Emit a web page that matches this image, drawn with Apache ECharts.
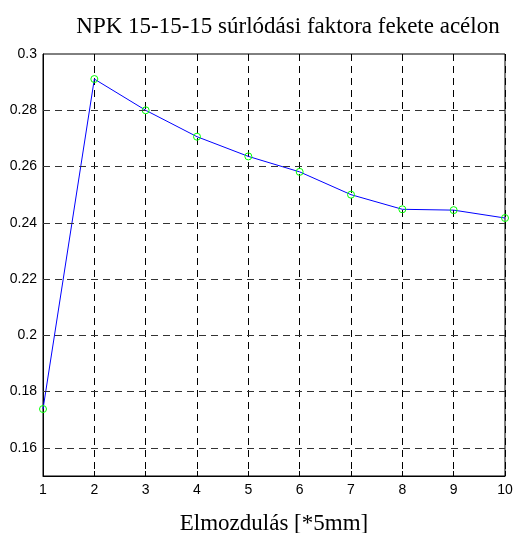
<!DOCTYPE html>
<html>
<head>
<meta charset="utf-8">
<script src="https://cdn.jsdelivr.net/npm/echarts@6/dist/echarts.min.js"></script>
<style>
  html, body { margin: 0; padding: 0; background: #fff; }
  #chart { width: 515px; height: 533px; }
</style>
</head>
<body>
<div id="chart"></div>
<script>
// Displacement steps (x) and measured friction factor (y)
const displacement = [1, 2, 3, 4, 5, 6, 7, 8, 9, 10];
const friction = [0.1738, 0.2911, 0.2800, 0.2706, 0.2636, 0.2581, 0.2500, 0.2448, 0.2445, 0.2417];
const yTicks = [0.16, 0.18, 0.2, 0.22, 0.24, 0.26, 0.28, 0.3];

const titleText = 'NPK 15-15-15 súrlódási faktora fekete acélon';
const xName = 'Elmozdulás [*5mm]';

const points = displacement.map((x, i) => [x, friction[i]]);

const chart = echarts.init(document.getElementById('chart'));
const dash = [7, 5];

chart.setOption({
  animation: false,
  title: {
    text: titleText,
    left: 283, top: 10, textAlign: 'center',
    textStyle: { fontFamily: 'Liberation Serif', fontSize: 23, fontWeight: 'normal', color: '#000' }
  },
  grid: {
    left: 43, right: 10, top: 54, bottom: 57,
    outerBoundsMode: 'none', containLabel: false,
    show: true, borderColor: '#000', borderWidth: 1
  },
  xAxis: {
    type: 'value', min: 1, max: 10, interval: 1,
    name: xName, nameLocation: 'middle', nameGap: 36,
    nameTextStyle: { fontFamily: 'Liberation Serif', fontSize: 23, color: '#000' },
    axisLine: { show: true, lineStyle: { color: '#000' } },
    axisTick: { show: true, inside: true, length: 5, lineStyle: { color: '#000' } },
    axisLabel: { fontFamily: 'Liberation Sans', fontSize: 14, color: '#000', margin: 7 },
    splitLine: { show: true, lineStyle: { color: '#000', type: dash, width: 1 } }
  },
  yAxis: {
    type: 'value', min: 0.15, max: 0.3, interval: 0.01,
    axisLine: { show: true, lineStyle: { color: '#000' } },
    axisTick: { show: false },
    axisLabel: {
      fontFamily: 'Liberation Sans', fontSize: 14, color: '#000', margin: 6,
      formatter: v => {
        const hit = yTicks.find(t => Math.abs(t - v) < 1e-6);
        return hit !== undefined ? String(hit) : '';
      }
    },
    splitLine: { show: false }
  },
  series: [{
    type: 'line',
    data: points,
    symbol: 'circle',
    symbolSize: 7,
    lineStyle: { color: '#0000ff', width: 1 },
    itemStyle: { color: 'rgba(0,0,0,0)', borderColor: '#00ff00', borderWidth: 1 },
    clip: false,
    z: 3,
    // horizontal grid lines at the labelled y ticks
    markLine: {
      silent: true,
      symbol: ['none', 'none'],
      label: { show: false },
      lineStyle: { color: '#333', type: dash, width: 1 },
      data: yTicks.slice(0, -1).map(v => ({ yAxis: v }))
    }
  }]
});
</script>
</body>
</html>
